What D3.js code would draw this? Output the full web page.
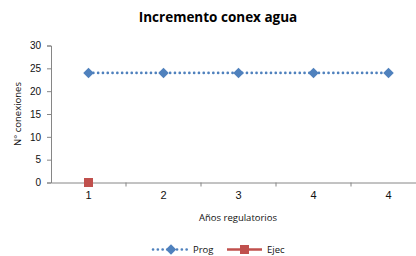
<!DOCTYPE html>
<html><head><meta charset="utf-8">
<script src="https://cdn.jsdelivr.net/npm/d3@7"></script>
<style>body{margin:0;background:#fff}svg{display:block;font-family:"Open Sans",sans-serif}</style>
</head><body><svg id="c" width="416" height="256"></svg>
<script>
const categories = ["1","2","3","4","4"];
const progValues = [24,24,24,24,24];
const ejecValues = [0];
const yTicks = [0,5,10,15,20,25,30];
const title = "Incremento conex agua";
const xTitle = "Años regulatorios";
const yTitle = "N° conexiones";

const svg = d3.select("#c");
const x0 = 51, xw = 375, yTop = 45.5, yBot = 182.5;
const idx = categories.map((d,i)=>i);
const x = d3.scaleBand().domain(idx).range([x0, x0+xw]).padding(0);
const y = d3.scaleLinear().domain([0,30]).range([yBot, yTop]);
const cx = i => x(i) + x.bandwidth()/2;
const axisCol = "#868686", textCol = "#111";

svg.append("text").attr("x",218).attr("y",22).attr("text-anchor","middle")
  .attr("font-size",13.5).attr("font-weight","bold").attr("fill","#000").text(title);

const ya = svg.append("g").attr("transform",`translate(${x0},0)`)
  .call(d3.axisLeft(y).tickValues(yTicks).tickSize(4).tickPadding(6));
ya.select(".domain").attr("stroke",axisCol);
ya.selectAll(".tick line").attr("stroke",axisCol);
ya.selectAll(".tick text").attr("font-size",10).attr("fill",textCol).attr("font-family","inherit");

const xa = svg.append("g").attr("transform",`translate(0,${yBot})`)
  .call(d3.axisBottom(x).tickFormat(i=>categories[i]).tickSize(0).tickPadding(9));
xa.select(".domain").attr("stroke",axisCol);
xa.selectAll(".tick text").attr("font-size",11).attr("fill",textCol).attr("font-family","inherit");
xa.selectAll(".bt").data(idx.slice(1)).enter().append("line")
  .attr("x1",i=>x(i)).attr("x2",i=>x(i)).attr("y1",0).attr("y2",4).attr("stroke",axisCol);

svg.append("text").attr("x",238).attr("y",221).attr("text-anchor","middle")
  .attr("font-size",9.5).attr("fill",textCol).text(xTitle);
svg.append("text").attr("transform","translate(21,114) rotate(-90)").attr("text-anchor","middle")
  .attr("font-size",9.5).attr("fill",textCol).text(yTitle);

const blue = "#4F81BD", red = "#C0504D";
const line = d3.line().x((d,i)=>cx(i)).y(d=>y(d));
svg.append("path").datum(progValues).attr("d",line).attr("fill","none")
  .attr("stroke",blue).attr("stroke-width",2.6).attr("stroke-linecap","round").attr("stroke-dasharray","0.1 4.7");
const diamond = d3.symbol().type(d3.symbolDiamond2).size(70);
svg.selectAll(".pm").data(progValues).enter().append("path")
  .attr("transform",(d,i)=>`translate(${cx(i)},${y(d)})`).attr("d",diamond).attr("fill",blue);
svg.selectAll(".em").data(ejecValues).enter().append("rect")
  .attr("x",(d,i)=>cx(i)-4.5).attr("y",d=>y(d)-4.5).attr("width",9).attr("height",9).attr("fill",red);

const ly = 249.5;
svg.append("line").attr("x1",153).attr("x2",188).attr("y1",ly).attr("y2",ly)
  .attr("stroke",blue).attr("stroke-width",2.6).attr("stroke-linecap","round").attr("stroke-dasharray","0.1 4.7");
svg.append("path").attr("transform",`translate(171,${ly})`).attr("d",diamond).attr("fill",blue);
svg.append("text").attr("x",193).attr("y",ly+3.5).attr("font-size",9.5).attr("fill",textCol).text("Prog");
svg.append("line").attr("x1",227).attr("x2",262).attr("y1",ly).attr("y2",ly)
  .attr("stroke",red).attr("stroke-width",2.6);
svg.append("rect").attr("x",240).attr("y",ly-4.5).attr("width",9).attr("height",9).attr("fill",red);
svg.append("text").attr("x",267).attr("y",ly+3.5).attr("font-size",9.5).attr("fill",textCol).text("Ejec");
</script></body></html>
